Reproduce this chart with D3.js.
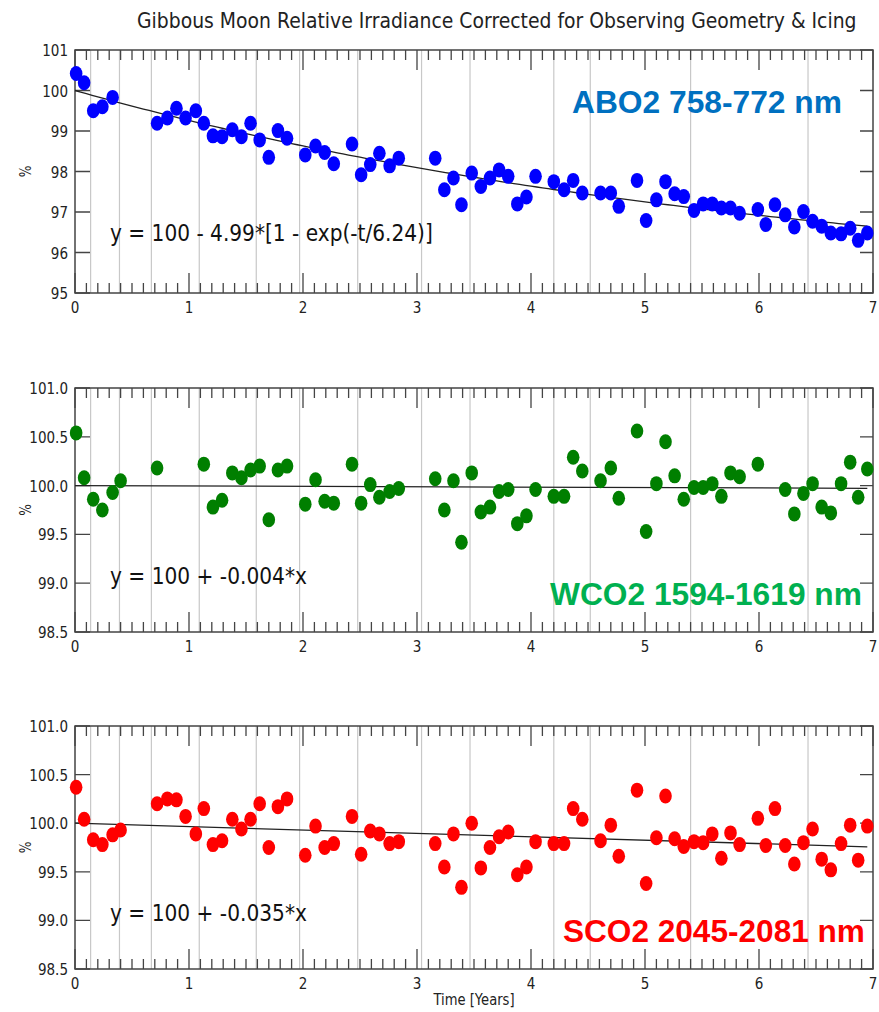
<!DOCTYPE html>
<html>
<head>
<meta charset="utf-8">
<script src="https://cdn.jsdelivr.net/npm/d3@7"></script>
<style>
  body { margin: 0; background: #fff; }
  svg { display: block; }
</style>
</head>
<body>
<div class="graph"></div>
<script>
// ---- data ----
// monthly gibbous-moon looks, years since launch
const times = [0.01,0.08,0.16,0.24,0.33,0.40,
  0.72,0.81,0.89,0.97,1.06,1.13,1.21,1.29,1.38,1.46,1.54,1.62,1.70,1.78,1.86,
  2.02,2.11,2.19,2.27,2.43,2.51,2.59,2.67,2.76,2.84,
  3.16,3.24,3.32,3.39,3.48,3.56,3.64,3.72,3.80,3.88,3.96,4.04,
  4.20,4.29,4.37,4.45,
  4.61,4.70,4.77,
  4.93,5.01,5.10,5.18,5.26,5.34,5.43,5.51,5.59,5.67,5.75,5.83,
  5.99,6.06,6.14,6.23,6.31,6.39,6.47,6.55,6.63,6.72,6.80,6.87,6.95]

const abo2 = [100.42,100.19,99.50,99.60,99.83,null,
  99.19,99.32,99.56,99.32,99.50,99.19,98.88,98.86,99.03,98.86,99.19,98.78,98.35,99.01,98.82,
  98.41,98.63,98.47,98.19,98.68,97.92,98.17,98.45,98.14,98.33,
  98.33,97.55,97.84,97.18,97.96,97.63,97.84,98.04,97.88,97.20,97.37,97.88,
  97.75,97.55,97.78,97.47,
  97.47,97.47,97.14,
  97.78,96.79,97.30,97.75,97.45,97.38,97.04,97.20,97.20,97.10,97.10,96.97,
  97.06,96.69,97.18,96.93,96.63,97.01,96.77,96.65,96.48,96.46,96.60,96.30,96.48]

const wco2 = [100.54,100.08,99.86,99.75,99.93,100.05,
  100.18,null,null,null,null,100.22,99.78,99.85,100.13,100.08,100.16,100.20,99.65,100.16,100.20,
  99.81,100.06,99.84,99.82,100.22,99.82,100.01,99.88,99.94,99.97,
  100.07,99.75,100.05,99.42,100.13,99.73,99.78,99.94,99.96,99.61,99.69,99.96,
  99.89,99.89,100.29,100.15,
  100.05,100.18,99.87,
  100.56,99.53,100.02,100.45,100.10,99.86,99.98,99.98,100.02,99.89,100.13,100.09,
  100.22,null,null,99.96,99.71,99.92,100.02,99.78,99.72,100.02,100.24,99.88,100.17]

const sco2 = [100.37,100.04,99.83,99.78,99.88,99.93,
  100.20,100.25,100.24,100.07,99.89,100.15,99.78,99.82,100.04,99.94,100.04,100.20,99.75,100.17,100.25,
  99.67,99.97,99.75,99.79,100.07,99.68,99.92,99.89,99.79,99.81,
  99.79,99.55,99.89,99.34,100.00,99.54,99.75,99.86,99.91,99.47,99.55,99.81,
  99.79,99.79,100.15,100.04,
  99.82,99.98,99.66,
  100.34,99.38,99.85,100.28,99.84,99.76,99.81,99.80,99.89,99.64,99.90,99.78,
  100.05,99.77,100.15,99.77,99.58,99.80,99.94,99.63,99.52,99.79,99.98,99.62,99.97]

// grey vertical event lines (years)
const events = [0.137,0.39,0.67,1.09,1.59,1.97,2.48,3.04,3.465,4.20,4.52,5.40,6.43]

const xTicks = [0,1,2,3,4,5,6,7]
const yTicksTop = [95,96,97,98,99,100,101]
const yTicksLow = [98.5,99.0,99.5,100.0,100.5,101.0]

const bands = ['ABO2 758-772 nm','WCO2 1594-1619 nm','SCO2 2045-2081 nm']
const fits = ['y = 100 - 4.99*[1 - exp(-t/6.24)]','y = 100 + -0.004*x','y = 100 + -0.035*x']
// fit parameters: [amplitude, e-fold] for ABO2, slope for the others
const expFit = [4.99, 6.24]
const slopes = [null, -0.004, -0.035]

// ---- layout ----
const W = 879, H = 1012
const x0 = 75, x1 = 873
const panels = [
  {vals: abo2, top: 50, bot: 293, dom: [95,101], ticks: yTicksTop, fmt: d3.format('d'),
   dot: '#0000ff', lab: '#0070c0', labX: 572, labY: 113, labW: 270, eqY: 241, eqW: 323},
  {vals: wco2, top: 388, bot: 632, dom: [98.5,101], ticks: yTicksLow, fmt: d3.format('.1f'),
   dot: '#007f00', lab: '#00b050', labX: 550, labY: 605, labW: 312, eqY: 584, eqW: 197},
  {vals: sco2, top: 726, bot: 969, dom: [98.5,101], ticks: yTicksLow, fmt: d3.format('.1f'),
   dot: '#ff0000', lab: '#ff0000', labX: 563, labY: 942, labW: 302, eqY: 921, eqW: 197}
]
const SX = 0.82   // text in the picture is squeezed sideways

let svg = d3.select('.graph')
    .append('svg')
    .attr('width', W)
    .attr('height', H)

let x = d3.scaleLinear().domain([0,7]).range([x0,x1])

// squeezed text helper
function sqText(g, str, px, py, size, anchor){
  return g.append('text')
    .attr('transform', 'translate(' + px + ',' + py + ') scale(' + SX + ',1)')
    .attr('text-anchor', anchor || 'start')
    .attr('font-family', 'DejaVu Sans')
    .attr('font-size', size)
    .attr('fill', '#222')
    .text(str)
}

// text squeezed so it spans exactly w pixels
function fitText(g, str, px, py, w, size, family, fill, weight){
  let t = g.append('text')
    .attr('font-family', family)
    .attr('font-size', size)
    .attr('font-weight', weight || 'normal')
    .attr('fill', fill)
    .text(str)
  let s = w / t.node().getComputedTextLength()
  t.attr('transform', 'translate(' + px + ',' + py + ') scale(' + s + ',1)')
  return t
}

fitText(svg, 'Gibbous Moon Relative Irradiance Corrected for Observing Geometry & Icing',
  137, 28, 720, 22, 'DejaVu Sans', '#222')

panels.forEach(function(p, k){
  let g = svg.append('g')
  let y = d3.scaleLinear().domain(p.dom).range([p.bot, p.top])

  // event lines
  g.selectAll('line.ev')
    .data(events)
    .enter()
    .append('line')
    .attr('x1', d => x(d)).attr('x2', d => x(d))
    .attr('y1', p.top).attr('y2', p.bot)
    .attr('stroke', '#c8c8c8').attr('stroke-width', 1.2)

  // x ticks, 0.1 yr minor, inward top & bottom
  let minor = d3.range(0, 70.5, 1).map(d => d/10)
  g.selectAll('path.xt')
    .data(minor)
    .enter()
    .append('path')
    .attr('d', function(d){
      let len = Math.abs(d - Math.round(d)) < 1e-6 ? 20 : 10
      let xx = x(d)
      return 'M' + xx + ',' + p.bot + 'v' + (-len) + 'M' + xx + ',' + p.top + 'v' + len
    })
    .attr('stroke', '#444').attr('stroke-width', 1.3)

  // y ticks left & right
  g.selectAll('path.yt')
    .data(p.ticks)
    .enter()
    .append('path')
    .attr('d', d => 'M' + x0 + ',' + y(d) + 'h15M' + x1 + ',' + y(d) + 'h-13')
    .attr('stroke', '#444').attr('stroke-width', 1.3)

  // frame
  g.append('rect')
    .attr('x', x0).attr('y', p.top)
    .attr('width', x1 - x0).attr('height', p.bot - p.top)
    .attr('fill', 'none').attr('stroke', '#444').attr('stroke-width', 1.5)

  // tick labels
  p.ticks.forEach(function(t){
    sqText(g, p.fmt(t), 68, y(t) + 6, 16.5, 'end')
  })
  xTicks.forEach(function(t){
    sqText(g, t, x(t), p.bot + 20, 16.5, 'middle')
  })

  // % label
  g.append('text')
    .attr('transform', 'translate(31,' + ((p.top + p.bot)/2) + ') rotate(-90) scale(' + SX + ',1)')
    .attr('text-anchor', 'middle')
    .attr('font-family', 'DejaVu Sans').attr('font-size', 15).attr('fill', '#222')
    .text('%')

  // fit line
  let tEnd = times[times.length - 1]
  let fitPts
  if (k === 0) {
    fitPts = d3.range(0, tEnd + 0.001, 0.05).map(t => [t, 100 - expFit[0]*(1 - Math.exp(-t/expFit[1]))])
  } else {
    fitPts = [[0, 100], [tEnd, 100 + slopes[k]*tEnd]]
  }
  let line = d3.line()
    .x(d => x(d[0]))
    .y(d => y(d[1]))
  g.append('path')
    .attr('d', line(fitPts))
    .attr('fill', 'none').attr('stroke', '#222').attr('stroke-width', 1.3)

  // dots
  let pts = times.map((t, i) => ({t: t, v: p.vals[i]})).filter(d => d.v !== null)
  g.selectAll('ellipse')
    .data(pts)
    .enter()
    .append('ellipse')
    .attr('cx', d => x(d.t))
    .attr('cy', d => y(d.v))
    .attr('rx', 6.3)
    .attr('ry', 7.5)
    .attr('fill', p.dot)

  // fit equation
  fitText(g, fits[k], 110, p.eqY, p.eqW, 23, 'DejaVu Sans', '#111')

  // band label
  fitText(g, bands[k], p.labX, p.labY, p.labW, 32, 'Liberation Sans, Arial, sans-serif', p.lab, 'bold')
})

sqText(svg, 'Time [Years]', x(3.5), 1005, 16, 'middle')
</script>
</body>
</html>
